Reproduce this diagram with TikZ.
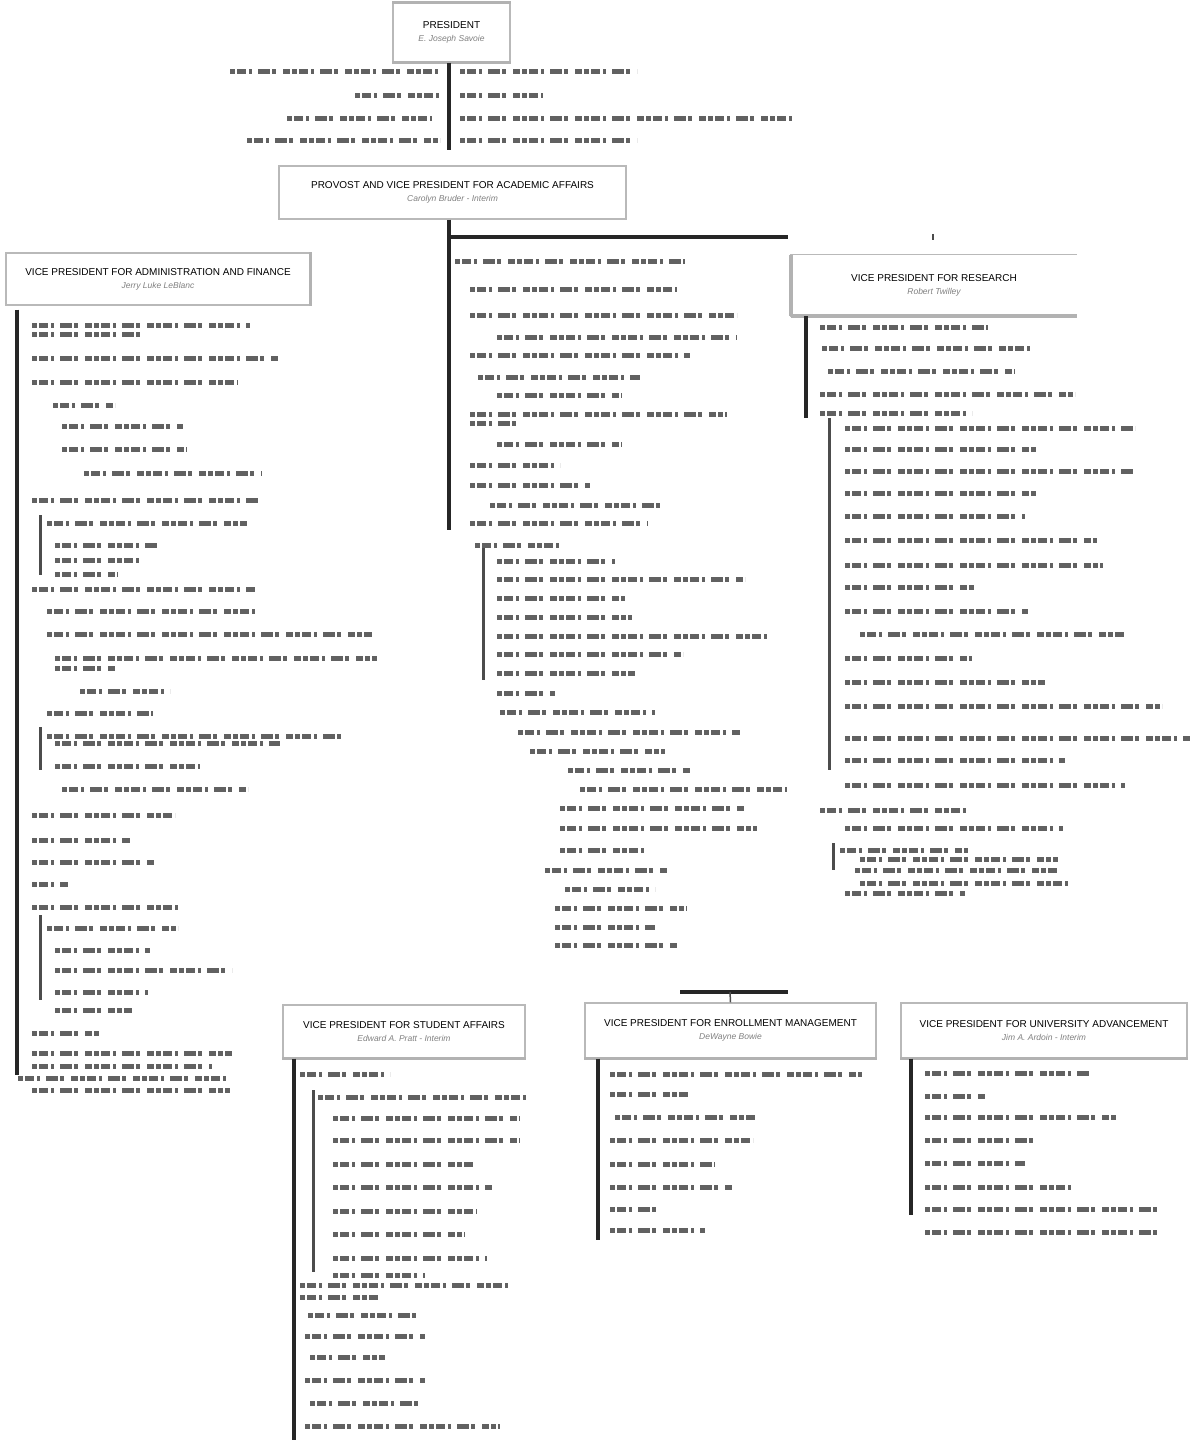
\documentclass[tikz,border=0pt]{standalone}
\usepackage{fontspec}
\setmainfont{Liberation Sans}
\begin{document}
\begin{tikzpicture}[x=1pt,y=-1pt,
  vpbox/.style={draw=gray!55, line width=1.2pt, fill=white, align=center, inner sep=0pt},
  shadowline/.style={draw=gray!60, line width=3.5pt},
  conn/.style={draw=black!85, line width=4pt},
  subconn/.style={draw=black!70, line width=3pt},
  tline/.style={draw=black!62, line width=5pt,
    dash pattern=on 5pt off 2pt on 9pt off 3pt on 3pt off 6pt on 12pt off 2pt on 4pt off 7pt on 7pt off 2pt}
]
\useasboundingbox (0,0) rectangle (1192,1447);
\newcommand{\ttl}[2]{{\fontsize{10}{12}\selectfont #1}\\[1pt]{\fontsize{8.5}{10}\selectfont\itshape\color{gray}#2}}

% boxes
\node[vpbox, minimum width=117pt, minimum height=59pt] (pres) at (451.5,32.5) {\ttl{PRESIDENT}{E. Joseph Savoie}};
\node[vpbox, minimum width=347pt, minimum height=53pt] (prov) at (452.5,192.5) {\ttl{PROVOST AND VICE PRESIDENT FOR ACADEMIC AFFAIRS}{Carolyn Bruder - Interim}};
\node[vpbox, minimum width=304pt, minimum height=52pt] (admin) at (158,279) {\ttl{VICE PRESIDENT FOR ADMINISTRATION AND FINANCE}{Jerry Luke LeBlanc}};
\node[fill=white, minimum width=286pt, minimum height=61pt, align=center, inner sep=0pt] (res) at (934,285.5) {\ttl{VICE PRESIDENT FOR RESEARCH}{Robert Twilley}};
\draw[draw=gray!55, line width=1.2pt] (res.north east) -- (res.north west) -- (res.south west) -- (res.south east);
\node[vpbox, minimum width=242pt, minimum height=53pt] (stud) at (404,1031.5) {\ttl{VICE PRESIDENT FOR STUDENT AFFAIRS}{Edward A. Pratt - Interim}};
\node[vpbox, minimum width=291pt, minimum height=55pt] (enr) at (730.5,1030.5) {\ttl{VICE PRESIDENT FOR ENROLLMENT MANAGEMENT}{DeWayne Bowie}};
\node[vpbox, minimum width=286pt, minimum height=55pt] (adv) at (1044,1030.5) {\ttl{VICE PRESIDENT FOR UNIVERSITY ADVANCEMENT}{Jim A. Ardoin - Interim}};

% shadows
\draw[shadowline] (pres.north west) -- (pres.north east);
\draw[shadowline] (pres.south west) -- (pres.south east);
\draw[shadowline] (res.north west) -- (res.south west);
\draw[shadowline] (res.south west) -- (res.south east);
\draw[shadowline] (admin.north east) -- (admin.south east);
\draw[shadowline] (stud.south west) -- (stud.south east);
\draw[shadowline] (enr.south west) -- (enr.south east);
\draw[shadowline] (adv.south west) -- (adv.south east);

% connectors
\coordinate (p1) at (449,150);
\coordinate (p2) at (449,530);
\coordinate (h1) at (449,237);
\coordinate (h2) at (788,237);
\coordinate (b1) at (680,992);
\coordinate (b2) at (788,992);
\coordinate (bt) at (730,992);
\draw[conn] (pres.south -| p1) -- (p1);
\draw[conn] (prov.south -| p2) -- (p2);
\draw[conn] (h1) -- (h2);
\draw[draw=black!70, line width=2pt] (933,234) -- (933,240);
\draw[conn] (b1) -- (b2);
\draw[draw=black!70, line width=1.5pt] (bt) -- (enr.north);

\coordinate (a1) at (17,1075);
\draw[conn] (admin.south -| a1) ++(0,4) -- (a1);
\coordinate (r1) at (806,418);
\draw[conn] (res.south -| r1) -- (r1);
\draw[subconn] (829,418) -- (829,770);
\draw[subconn] (833,843) -- (833,870);
\draw[subconn] (483,545) -- (483,680);
\draw[subconn] (40,515) -- (40,575);
\draw[subconn] (40,727) -- (40,770);
\draw[subconn] (40,915) -- (40,1000);
\coordinate (s1) at (294,1440);
\draw[conn] (stud.south -| s1) -- (s1);
\draw[subconn] (313,1090) -- (313,1272);
\coordinate (e1) at (598,1240);
\draw[conn] (enr.south -| e1) -- (e1);
\coordinate (v1) at (911,1215);
\draw[conn] (adv.south -| v1) -- (v1);

% unreadable entry lines
\foreach \a/\b/\c in {
230/72/440, 355/96/440, 287/119/432, 247/141/440,
460/72/637, 460/96/543, 460/119/797, 460/141/637,
32/325/250, 32/334/145, 32/358/278, 32/382/238, 53/405/115, 62/426/183, 62/449/187, 84/473/262,
32/500/258, 47/523/247, 55/545/158, 55/560/143, 55/574/118, 32/589/255, 47/611/258, 47/634/372,
55/658/377, 55/668/115, 80/691/170, 47/713/153, 47/736/345, 55/743/280, 55/766/200, 62/789/248,
32/815/175, 32/840/130, 32/862/155, 32/884/68, 32/907/178, 47/928/178, 55/950/150, 55/970/232,
55/992/148, 55/1010/132, 32/1033/100, 32/1053/232, 32/1066/212, 18/1078/228, 32/1090/230,
455/261/685, 470/289/677, 470/315/737, 497/337/737, 470/355/690, 478/377/640, 497/395/622,
470/414/727, 470/423/520, 497/444/622, 470/465/560, 470/485/590, 490/505/662, 470/523/648,
475/545/560, 497/561/615, 497/579/745, 497/598/625, 497/617/632, 497/636/767, 497/654/683,
497/673/635, 497/693/555, 500/712/655, 518/732/740, 530/751/665, 568/770/690, 580/789/787,
560/808/745, 560/828/757, 560/850/648, 545/870/667, 565/889/655, 555/908/687, 555/927/655, 555/945/677,
820/327/988, 822/348/1030, 828/371/1015, 820/394/1075, 820/413/972, 845/428/1135, 845/449/1037,
845/471/1133, 845/493/1037, 845/516/1025, 845/540/1097, 845/565/1103, 845/587/975, 845/611/1028,
860/634/1125, 845/658/972, 845/682/1045, 845/706/1162, 845/738/1190, 845/760/1065, 845/785/1125,
820/810/970, 845/828/1063, 840/850/968, 860/859/1058, 855/870/1058, 860/883/1073, 845/893/965,
300/1074/390, 318/1097/530, 333/1118/520, 333/1140/520, 333/1164/475, 333/1187/492, 333/1211/477,
333/1234/465, 333/1258/487, 333/1275/425, 300/1285/510, 300/1297/380, 308/1315/420, 305/1336/425,
310/1357/385, 305/1380/425, 310/1403/420, 305/1426/500,
610/1074/862, 610/1094/690, 615/1117/757, 610/1140/753, 610/1164/715, 610/1187/732, 610/1209/660, 610/1230/705,
925/1073/1090, 925/1096/985, 925/1117/1117, 925/1140/1037, 925/1163/1025, 925/1187/1075, 925/1209/1160, 925/1232/1157}
  \draw[tline] (\a,\b) -- (\c,\b);
\end{tikzpicture}
\end{document}
